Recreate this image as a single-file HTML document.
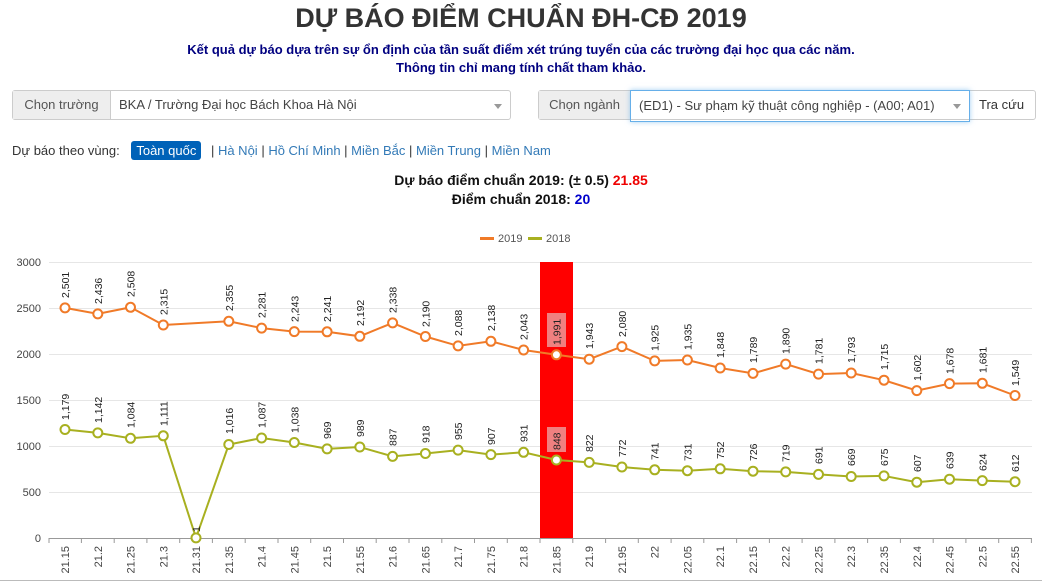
<!DOCTYPE html>
<html><head><meta charset="utf-8"><style>
body{margin:0;width:1042px;height:585px;background:#fff;font-family:"Liberation Sans",Arial,sans-serif;position:relative;overflow:hidden;color:#333}
.abs{position:absolute}
h1{position:absolute;left:0;width:1042px;top:3px;margin:0;text-align:center;font-size:27px;font-weight:bold;color:#333}
.sub{position:absolute;left:0;width:1042px;text-align:center;font-size:13px;font-weight:bold;color:#000080}
.grp{position:absolute;height:30px;border:1px solid #ccc;border-radius:3px;box-sizing:border-box;font-size:13px;color:#555}
.addon{position:absolute;top:0;left:0;height:28px;background:#eee;border-right:1px solid #ccc;line-height:28px;text-align:center}
.sel{position:absolute;top:0;height:28px;line-height:28px;padding-left:8px;white-space:nowrap}
.caret{position:absolute;top:13px;width:0;height:0;border-left:4px solid transparent;border-right:4px solid transparent;border-top:5px solid #999}
.reg{position:absolute;left:12px;top:143px;font-size:13px;color:#333}
.reg a{color:#337ab7;text-decoration:none}
.badge{background:#0062b8;color:#fff;padding:2px 5px;border-radius:3px;margin:0 6px 0 8px}
</style></head><body>
<h1>DỰ BÁO ĐIỂM CHUẨN ĐH-CĐ 2019</h1>
<div class="sub" style="top:42px">Kết quả dự báo dựa trên sự ổn định của tần suất điểm xét trúng tuyển của các trường đại học qua các năm.</div>
<div class="sub" style="top:60px">Thông tin chỉ mang tính chất tham khảo.</div>

<div class="grp" style="left:12px;top:90px;width:499px"><div class="addon" style="width:97px">Chọn trường</div><div class="sel" style="left:98px;color:#444">BKA / Trường Đại học Bách Khoa Hà Nội</div><div class="caret" style="left:481px"></div></div>
<div class="grp" style="left:538px;top:90px;width:498px"><div class="addon" style="width:91px">Chọn ngành</div><div class="sel" style="left:91px;width:330px;border:1px solid #66afe9;box-shadow:0 0 5px rgba(102,175,233,.6);top:-1px;height:30px;line-height:30px;color:#444">(ED1) - Sư phạm kỹ thuật công nghiệp - (A00; A01)</div><div class="caret" style="left:414px"></div><div class="sel" style="left:432px;padding-left:8px;color:#333">Tra cứu</div></div>

<div class="reg">Dự báo theo vùng: <span class="badge">Toàn quốc</span> | <a>Hà Nội</a> | <a>Hồ Chí Minh</a> | <a>Miền Bắc</a> | <a>Miền Trung</a> | <a>Miền Nam</a></div>
<div class="abs" style="left:0;width:1042px;top:172px;text-align:center;font-size:14px;font-weight:bold;color:#111">Dự báo điểm chuẩn 2019: (± 0.5) <span style="color:#e00">21.85</span></div>
<div class="abs" style="left:0;width:1042px;top:191px;text-align:center;font-size:14px;font-weight:bold;color:#111">Điểm chuẩn 2018: <span style="color:#00c">20</span></div>

<svg class="abs" style="left:0;top:0" width="1042" height="585" font-family="Liberation Sans, Arial, sans-serif">
<line x1="0" y1="580.5" x2="1042" y2="580.5" stroke="#bbb"/>
<g stroke="#f07a28" stroke-width="3"><line x1="480" y1="238.5" x2="494" y2="238.5"/></g>
<text x="498" y="242" font-size="11" fill="#555">2019</text>
<g stroke="#a8b020" stroke-width="3"><line x1="528" y1="238.5" x2="542" y2="238.5"/></g>
<text x="546" y="242" font-size="11" fill="#555">2018</text>
<g stroke="#e6e6e6"><line x1="49" y1="262.5" x2="1032" y2="262.5"/><line x1="49" y1="308.5" x2="1032" y2="308.5"/><line x1="49" y1="354.5" x2="1032" y2="354.5"/><line x1="49" y1="400.5" x2="1032" y2="400.5"/><line x1="49" y1="446.5" x2="1032" y2="446.5"/><line x1="49" y1="492.5" x2="1032" y2="492.5"/></g>
<rect x="540" y="262" width="33" height="276" fill="#ff0000"/>
<line x1="49" y1="538.5" x2="1032" y2="538.5" stroke="#999"/>
<g font-size="11" fill="#444" text-anchor="end"><text x="41" y="266">3000</text><text x="41" y="312">2500</text><text x="41" y="358">2000</text><text x="41" y="404">1500</text><text x="41" y="450">1000</text><text x="41" y="496">500</text><text x="41" y="542">0</text></g>
<g stroke="#999"><line x1="49" y1="538" x2="49" y2="543"/><line x1="81.4" y1="538" x2="81.4" y2="543"/><line x1="114.2" y1="538" x2="114.2" y2="543"/><line x1="146.9" y1="538" x2="146.9" y2="543"/><line x1="179.7" y1="538" x2="179.7" y2="543"/><line x1="212.4" y1="538" x2="212.4" y2="543"/><line x1="245.2" y1="538" x2="245.2" y2="543"/><line x1="278" y1="538" x2="278" y2="543"/><line x1="310.7" y1="538" x2="310.7" y2="543"/><line x1="343.5" y1="538" x2="343.5" y2="543"/><line x1="376.2" y1="538" x2="376.2" y2="543"/><line x1="409" y1="538" x2="409" y2="543"/><line x1="441.8" y1="538" x2="441.8" y2="543"/><line x1="474.5" y1="538" x2="474.5" y2="543"/><line x1="507.3" y1="538" x2="507.3" y2="543"/><line x1="540" y1="538" x2="540" y2="543"/><line x1="572.8" y1="538" x2="572.8" y2="543"/><line x1="605.6" y1="538" x2="605.6" y2="543"/><line x1="638.3" y1="538" x2="638.3" y2="543"/><line x1="671.1" y1="538" x2="671.1" y2="543"/><line x1="703.8" y1="538" x2="703.8" y2="543"/><line x1="736.6" y1="538" x2="736.6" y2="543"/><line x1="769.4" y1="538" x2="769.4" y2="543"/><line x1="802.1" y1="538" x2="802.1" y2="543"/><line x1="834.9" y1="538" x2="834.9" y2="543"/><line x1="867.6" y1="538" x2="867.6" y2="543"/><line x1="900.4" y1="538" x2="900.4" y2="543"/><line x1="933.2" y1="538" x2="933.2" y2="543"/><line x1="965.9" y1="538" x2="965.9" y2="543"/><line x1="998.7" y1="538" x2="998.7" y2="543"/><line x1="1031.4" y1="538" x2="1031.4" y2="543"/></g>
<g font-size="11" fill="#444" text-anchor="end">
<text transform="translate(69,546) rotate(-90)">21.15</text>
<text transform="translate(101.8,546) rotate(-90)">21.2</text>
<text transform="translate(134.5,546) rotate(-90)">21.25</text>
<text transform="translate(167.3,546) rotate(-90)">21.3</text>
<text transform="translate(200,546) rotate(-90)">21.31</text>
<text transform="translate(232.8,546) rotate(-90)">21.35</text>
<text transform="translate(265.6,546) rotate(-90)">21.4</text>
<text transform="translate(298.3,546) rotate(-90)">21.45</text>
<text transform="translate(331.1,546) rotate(-90)">21.5</text>
<text transform="translate(363.8,546) rotate(-90)">21.55</text>
<text transform="translate(396.6,546) rotate(-90)">21.6</text>
<text transform="translate(429.4,546) rotate(-90)">21.65</text>
<text transform="translate(462.1,546) rotate(-90)">21.7</text>
<text transform="translate(494.9,546) rotate(-90)">21.75</text>
<text transform="translate(527.6,546) rotate(-90)">21.8</text>
<text transform="translate(560.4,546) rotate(-90)">21.85</text>
<text transform="translate(593.2,546) rotate(-90)">21.9</text>
<text transform="translate(625.9,546) rotate(-90)">21.95</text>
<text transform="translate(658.7,546) rotate(-90)">22</text>
<text transform="translate(691.4,546) rotate(-90)">22.05</text>
<text transform="translate(724.2,546) rotate(-90)">22.1</text>
<text transform="translate(757,546) rotate(-90)">22.15</text>
<text transform="translate(789.7,546) rotate(-90)">22.2</text>
<text transform="translate(822.5,546) rotate(-90)">22.25</text>
<text transform="translate(855.2,546) rotate(-90)">22.3</text>
<text transform="translate(888,546) rotate(-90)">22.35</text>
<text transform="translate(920.8,546) rotate(-90)">22.4</text>
<text transform="translate(953.5,546) rotate(-90)">22.45</text>
<text transform="translate(986.3,546) rotate(-90)">22.5</text>
<text transform="translate(1019,546) rotate(-90)">22.55</text>
</g>
<polyline fill="none" stroke="#f07a28" stroke-width="2" points="65,307.9 97.8,313.9 130.5,307.3 163.3,325 228.8,321.3 261.6,328.1 294.3,331.6 327.1,331.8 359.8,336.3 392.6,322.9 425.4,336.5 458.1,345.9 490.9,341.3 523.6,350 556.4,354.8 589.2,359.2 621.9,346.6 654.7,360.9 687.4,360 720.2,368 753,373.4 785.7,364.1 818.5,374.1 851.2,373 884,380.2 916.8,390.6 949.5,383.6 982.3,383.3 1015,395.5"/>
<polyline fill="none" stroke="#a8b020" stroke-width="2" points="65,429.5 97.8,432.9 130.5,438.3 163.3,435.8 196,537.9 228.8,444.5 261.6,438 294.3,442.5 327.1,448.9 359.8,447 392.6,456.4 425.4,453.5 458.1,450.1 490.9,454.6 523.6,452.3 556.4,460 589.2,462.4 621.9,467 654.7,469.8 687.4,470.7 720.2,468.8 753,471.2 785.7,471.9 818.5,474.4 851.2,476.5 884,475.9 916.8,482.2 949.5,479.2 982.3,480.6 1015,481.7"/>
<g fill="#fff" stroke="#f07a28" stroke-width="2">
<circle cx="65" cy="307.9" r="4.5"/><circle cx="97.8" cy="313.9" r="4.5"/><circle cx="130.5" cy="307.3" r="4.5"/><circle cx="163.3" cy="325" r="4.5"/><circle cx="228.8" cy="321.3" r="4.5"/><circle cx="261.6" cy="328.1" r="4.5"/><circle cx="294.3" cy="331.6" r="4.5"/><circle cx="327.1" cy="331.8" r="4.5"/><circle cx="359.8" cy="336.3" r="4.5"/><circle cx="392.6" cy="322.9" r="4.5"/><circle cx="425.4" cy="336.5" r="4.5"/><circle cx="458.1" cy="345.9" r="4.5"/><circle cx="490.9" cy="341.3" r="4.5"/><circle cx="523.6" cy="350" r="4.5"/><circle cx="556.4" cy="354.8" r="4.5"/><circle cx="589.2" cy="359.2" r="4.5"/><circle cx="621.9" cy="346.6" r="4.5"/><circle cx="654.7" cy="360.9" r="4.5"/><circle cx="687.4" cy="360" r="4.5"/><circle cx="720.2" cy="368" r="4.5"/><circle cx="753" cy="373.4" r="4.5"/><circle cx="785.7" cy="364.1" r="4.5"/><circle cx="818.5" cy="374.1" r="4.5"/><circle cx="851.2" cy="373" r="4.5"/><circle cx="884" cy="380.2" r="4.5"/><circle cx="916.8" cy="390.6" r="4.5"/><circle cx="949.5" cy="383.6" r="4.5"/><circle cx="982.3" cy="383.3" r="4.5"/><circle cx="1015" cy="395.5" r="4.5"/>
</g>
<g fill="#fff" stroke="#a8b020" stroke-width="2">
<circle cx="65" cy="429.5" r="4.5"/><circle cx="97.8" cy="432.9" r="4.5"/><circle cx="130.5" cy="438.3" r="4.5"/><circle cx="163.3" cy="435.8" r="4.5"/><circle cx="196" cy="537.9" r="4.5"/><circle cx="228.8" cy="444.5" r="4.5"/><circle cx="261.6" cy="438" r="4.5"/><circle cx="294.3" cy="442.5" r="4.5"/><circle cx="327.1" cy="448.9" r="4.5"/><circle cx="359.8" cy="447" r="4.5"/><circle cx="392.6" cy="456.4" r="4.5"/><circle cx="425.4" cy="453.5" r="4.5"/><circle cx="458.1" cy="450.1" r="4.5"/><circle cx="490.9" cy="454.6" r="4.5"/><circle cx="523.6" cy="452.3" r="4.5"/><circle cx="556.4" cy="460" r="4.5"/><circle cx="589.2" cy="462.4" r="4.5"/><circle cx="621.9" cy="467" r="4.5"/><circle cx="654.7" cy="469.8" r="4.5"/><circle cx="687.4" cy="470.7" r="4.5"/><circle cx="720.2" cy="468.8" r="4.5"/><circle cx="753" cy="471.2" r="4.5"/><circle cx="785.7" cy="471.9" r="4.5"/><circle cx="818.5" cy="474.4" r="4.5"/><circle cx="851.2" cy="476.5" r="4.5"/><circle cx="884" cy="475.9" r="4.5"/><circle cx="916.8" cy="482.2" r="4.5"/><circle cx="949.5" cy="479.2" r="4.5"/><circle cx="982.3" cy="480.6" r="4.5"/><circle cx="1015" cy="481.7" r="4.5"/>
</g>
<rect x="547" y="313" width="19" height="34" fill="#f08080"/>
<rect x="547" y="427" width="19" height="25" fill="#f08080"/>
<g font-size="10.5" fill="#222">
<text transform="translate(69,298) rotate(-90)">2,501</text>
<text transform="translate(101.8,304) rotate(-90)">2,436</text>
<text transform="translate(134.5,297) rotate(-90)">2,508</text>
<text transform="translate(167.3,315) rotate(-90)">2,315</text>
<text transform="translate(232.8,311) rotate(-90)">2,355</text>
<text transform="translate(265.6,318) rotate(-90)">2,281</text>
<text transform="translate(298.3,322) rotate(-90)">2,243</text>
<text transform="translate(331.1,322) rotate(-90)">2,241</text>
<text transform="translate(363.8,326) rotate(-90)">2,192</text>
<text transform="translate(396.6,313) rotate(-90)">2,338</text>
<text transform="translate(429.4,327) rotate(-90)">2,190</text>
<text transform="translate(462.1,336) rotate(-90)">2,088</text>
<text transform="translate(494.9,331) rotate(-90)">2,138</text>
<text transform="translate(527.6,340) rotate(-90)">2,043</text>
<text transform="translate(560.4,345) rotate(-90)">1,991</text>
<text transform="translate(593.2,349) rotate(-90)">1,943</text>
<text transform="translate(625.9,337) rotate(-90)">2,080</text>
<text transform="translate(658.7,351) rotate(-90)">1,925</text>
<text transform="translate(691.4,350) rotate(-90)">1,935</text>
<text transform="translate(724.2,358) rotate(-90)">1,848</text>
<text transform="translate(757,363) rotate(-90)">1,789</text>
<text transform="translate(789.7,354) rotate(-90)">1,890</text>
<text transform="translate(822.5,364) rotate(-90)">1,781</text>
<text transform="translate(855.2,363) rotate(-90)">1,793</text>
<text transform="translate(888,370) rotate(-90)">1,715</text>
<text transform="translate(920.8,381) rotate(-90)">1,602</text>
<text transform="translate(953.5,374) rotate(-90)">1,678</text>
<text transform="translate(986.3,373) rotate(-90)">1,681</text>
<text transform="translate(1019,386) rotate(-90)">1,549</text>
<text transform="translate(69,420) rotate(-90)">1,179</text>
<text transform="translate(101.8,423) rotate(-90)">1,142</text>
<text transform="translate(134.5,428) rotate(-90)">1,084</text>
<text transform="translate(167.3,426) rotate(-90)">1,111</text>
<text transform="translate(200,532) rotate(-90)">1</text>
<text transform="translate(232.8,434) rotate(-90)">1,016</text>
<text transform="translate(265.6,428) rotate(-90)">1,087</text>
<text transform="translate(298.3,433) rotate(-90)">1,038</text>
<text transform="translate(331.1,439) rotate(-90)">969</text>
<text transform="translate(363.8,437) rotate(-90)">989</text>
<text transform="translate(396.6,446) rotate(-90)">887</text>
<text transform="translate(429.4,443) rotate(-90)">918</text>
<text transform="translate(462.1,440) rotate(-90)">955</text>
<text transform="translate(494.9,445) rotate(-90)">907</text>
<text transform="translate(527.6,442) rotate(-90)">931</text>
<text transform="translate(560.4,450) rotate(-90)">848</text>
<text transform="translate(593.2,452) rotate(-90)">822</text>
<text transform="translate(625.9,457) rotate(-90)">772</text>
<text transform="translate(658.7,460) rotate(-90)">741</text>
<text transform="translate(691.4,461) rotate(-90)">731</text>
<text transform="translate(724.2,459) rotate(-90)">752</text>
<text transform="translate(757,461) rotate(-90)">726</text>
<text transform="translate(789.7,462) rotate(-90)">719</text>
<text transform="translate(822.5,464) rotate(-90)">691</text>
<text transform="translate(855.2,466) rotate(-90)">669</text>
<text transform="translate(888,466) rotate(-90)">675</text>
<text transform="translate(920.8,472) rotate(-90)">607</text>
<text transform="translate(953.5,469) rotate(-90)">639</text>
<text transform="translate(986.3,471) rotate(-90)">624</text>
<text transform="translate(1019,472) rotate(-90)">612</text>
</g>
</svg>
</body></html>
